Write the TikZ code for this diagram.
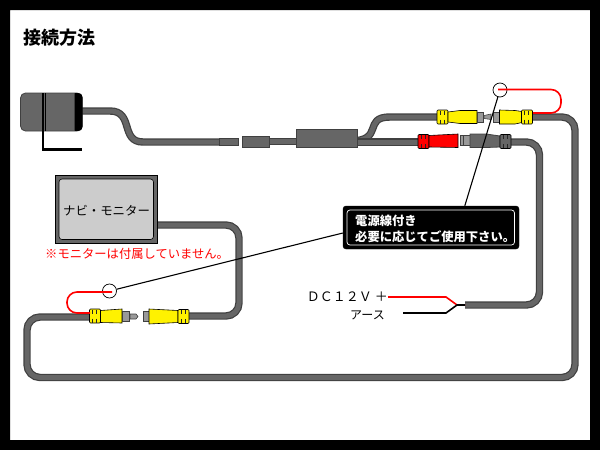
\documentclass[tikz,border=0pt]{standalone}
\usepackage{fontspec}
\setmainfont{Noto Sans CJK JP}
\definecolor{cablefill}{HTML}{666666}
\definecolor{cableedge}{HTML}{404040}
\definecolor{metalgray}{HTML}{999999}
\tikzset{
	cable/.style={line width=7.4pt, draw=cableedge, rounded corners=13pt, postaction={draw=cablefill, line width=5pt}},
	part/.style={draw=cableedge, fill=cablefill, line width=0.8pt},
	metal/.style={draw=cableedge, fill=metalgray, line width=0.6pt},
	boot/.style={draw=black, line width=0.6pt},
	wire/.style={line width=1.6pt, rounded corners=10pt},
	leader/.style={draw=black, line width=1.1pt},
	ring/.style={circle, draw=black, fill=white, line width=0.7pt, minimum size=14pt, inner sep=0pt},
	label/.style={inner sep=0pt, font=\fontsize{12.3}{12.3}\selectfont}
}
% ribbed end of a plug: x of the left edge, y of the axis, colour
\newcommand{\ribboot}[3]{
	\draw[boot, fill=#3, rounded corners=1pt] (#1, #2-7) rectangle (#1+11, #2+7);
	\foreach \ribx in {3.2, 7.4} {
		\draw[black!85, line width=1.1pt] (#1+\ribx, #2-6.5) -- (#1+\ribx, #2-2.5);
		\draw[black!85, line width=1.1pt] (#1+\ribx, #2+2.5) -- (#1+\ribx, #2+6.5);
	}
}
\begin{document}
\begin{tikzpicture}[x=1pt, y=-1pt]
	\path[use as bounding box] (0, 0) rectangle (600, 450);
	\fill[black, even odd rule] (0, 0) rectangle (600, 450) (10, 10) rectangle (590, 440);

	\node[label, anchor=west, font=\fontsize{18}{18}\selectfont\bfseries] (title) at (23, 38) {接続方法};

	% camera
	\draw[cable, rounded corners=0pt] (80, 111) -- (110, 111) .. controls (134, 111) and (120, 142) .. (143, 142) -- (220, 142);
	\draw[part, rounded corners=5pt] (20.5, 93) rectangle (82, 131);
	\fill[black, rounded corners=4pt] (75, 93) rectangle (82.5, 131);
	\fill[black] (75, 93) rectangle (78, 131);
	\draw[cableedge, line width=0.8pt] (74.5, 93) -- (74.5, 131);
	\draw[black, line width=1pt] (45, 93) -- (45, 131);
	\draw[black, line width=2.6pt] (43, 93) -- (43, 149.5) -- (82, 149.5);

	% inline parts
	\draw[part] (219.5, 138.5) rectangle (238.5, 145.5);
	\draw[cable, rounded corners=0pt] (268, 141.5) -- (298, 141.5);
	\draw[part] (242.5, 136.5) rectangle (269, 147);
	\draw[cable, rounded corners=0pt] (350, 141) .. controls (385, 141) and (362, 117) .. (390, 117) -- (438, 117);
	\draw[cable, rounded corners=0pt] (350, 142) -- (420, 142);
	\draw[part] (296.5, 129) rectangle (357.5, 147);

	% long video cable
	\draw[cable] (532, 117) -- (575, 117) -- (575, 377.5) -- (27, 377.5) -- (27, 317) -- (90, 317);
	% monitor cable
	\draw[cable] (188, 316) -- (239, 316) -- (239, 225) -- (156, 225);
	% power cable
	\draw[cable] (510, 142) -- (539.5, 142) -- (539.5, 305) -- (465, 305);

	% power leads
	\draw[wire, rounded corners=0pt, red] (388, 297) -- (446, 297) -- (457, 305) -- (465, 305);
	\draw[wire, rounded corners=0pt, black] (403, 313) -- (446, 313) -- (457, 305) -- (465, 305);

	% upper yellow plugs
	\ribboot{437}{117}{yellow}
	\draw[boot, fill=yellow] (448, 112) -- (460, 110.5) -- (477, 110.5) -- (477, 123.5) -- (460, 123.5) -- (448, 122) -- cycle;
	\draw[metal] (477, 112) rectangle (483, 122);
	\draw[metal] (484, 115.5) -- (491, 114) -- (491, 119.5) -- (484, 118.5) -- cycle;
	\draw[metal] (493, 112) rectangle (499.5, 122);
	\draw[boot, fill=yellow] (499.5, 110) -- (515, 110.5) -- (522, 111.5) -- (522, 122.5) -- (515, 124) -- (499.5, 124) -- cycle;
	\ribboot{521.5}{117}{yellow}

	% red plug and dark plug
	\ribboot{418}{141.5}{red}
	\draw[boot, fill=red] (429, 135.5) -- (458, 134) -- (458, 147.5) -- (429, 147) -- cycle;
	\draw[metal] (460.5, 135.5) rectangle (470, 145.5);
	\draw[cableedge, line width=0.5pt] (463, 135.5) -- (463, 145.5);
	\draw[part] (470, 134) -- (486, 134) -- (500, 136) -- (500, 147) -- (486, 147.5) -- (470, 147.5) -- cycle;
	\ribboot{500}{141.5}{cablefill}

	% lower yellow plugs
	\ribboot{89.5}{316}{yellow}
	\draw[boot, fill=yellow] (100.5, 310.5) -- (122, 309) -- (122, 323) -- (100.5, 322.5) -- cycle;
	\draw[metal] (122.5, 311.5) rectangle (129.5, 321);
	\draw[metal] (130, 314) -- (136, 314) -- (138, 316.5) -- (136, 319) -- (130, 319) -- cycle;
	\draw[metal] (143, 311) rectangle (149, 321.5);
	\draw[boot, fill=yellow] (149, 309) -- (178, 310.5) -- (178, 322.5) -- (149, 324) -- cycle;
	\ribboot{178}{316.5}{yellow}

	% monitor
	\draw[draw=black, fill=cablefill, line width=1pt] (55.5, 175.5) rectangle (157.5, 243);
	\draw[draw=black, fill=black!20, line width=0.6pt, rounded corners=3pt] (59, 179) rectangle (153.5, 239.5);
	\node[label, font=\fontsize{12.4}{12.4}\selectfont] (monitor) at (106.5, 211) {ナビ・モニター};
	\node[label, red, anchor=west] (notice) at (45, 254) {※モニターは付属していません。};

	% power labels
	\node[label, anchor=east, font=\fontsize{13}{13}\selectfont] (dc) at (388, 297) {ＤＣ１２Ｖ ＋};
	\node[label, anchor=east, font=\fontsize{12}{12}\selectfont] (earth) at (385, 315) {アース};

	% note with its two leaders
	\node[ring] (ringtop) at (500, 90) {};
	\node[ring] (ringlow) at (109.5, 291) {};
	\draw[red, wire] (498, 89.5) -- (561, 89.5) -- (561, 113) -- (533, 113);
	\draw[red, wire] (112, 292) -- (67, 292) -- (67, 313) -- (90, 313);
	\node[draw=black, fill=black, rounded corners=3pt, minimum width=176pt, minimum height=43pt, inner sep=0pt] (note) at (431, 227.5) {};
	\draw[leader] (note.north west) ++(122, 0) -- (ringtop);
	\draw[leader] (note.west) ++(0, 5.5) -- (ringlow);
	\draw[white, line width=0.7pt, rounded corners=3pt] (347, 210) rectangle (514.5, 245);
	\node[label, white, anchor=west] (notea) at (355, 221) {\textbf{電源線付き}};
	\node[label, white, anchor=west] (noteb) at (355, 237) {\textbf{必要に応じてご使用下さい。}};
\end{tikzpicture}
\end{document}
